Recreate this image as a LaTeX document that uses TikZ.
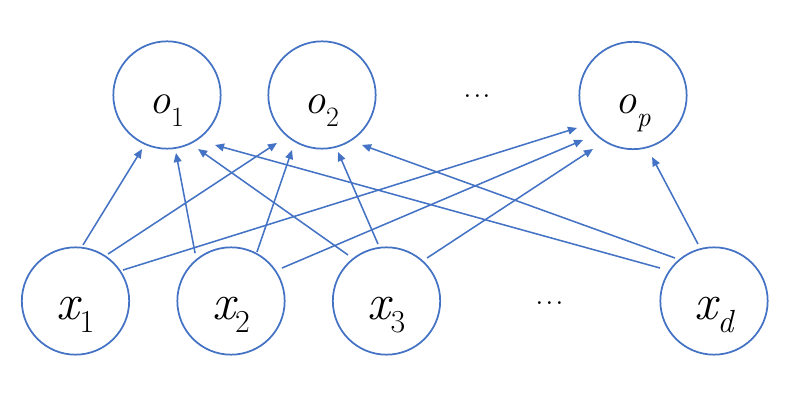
\documentclass[tikz,border=0pt]{standalone}
\usepackage{fontspec}
\usetikzlibrary{calc,arrows.meta}
\definecolor{pptblue}{RGB}{68,114,196}
\newcommand\vsub[5]{{\fontsize{#1}{#1}\selectfont\itshape #2}\raisebox{-#5}{\fontsize{#3}{#3}\selectfont #4}}
\begin{document}
\begin{tikzpicture}[x=0.75pt,y=0.75pt,
  neuron/.style={circle,draw=pptblue,line width=1.3pt,minimum size=80.5pt,inner sep=0pt,text height=27.75pt,text depth=0pt},
  edge/.style={draw=pptblue,line width=1.15pt,-{Triangle[length=6.8pt,width=5.8pt]}},
  dots/.style={font=\fontsize{26pt}{26pt}\selectfont,inner sep=0pt,anchor=south}]
\useasboundingbox[fill=white] (0,0) rectangle (796,400);
% output layer
\node[neuron] (o1) at (167,305) {\vsub{32pt}{o}{21pt}{1}{9.75pt}};
\node[neuron] (o2) at (322,305) {\vsub{32pt}{o}{21pt}{2}{9.75pt}};
\node[neuron] (op) at (633,304.5) {\vsub{32pt}{o}{21pt}{\itshape p}{9.75pt}};
\node[dots] (tdots) at (477.5,302.5) {.\kern0.8pt.\kern0.8pt.};
% input layer
\node[neuron] (x1) at (75.5,99) {\vsub{38pt}{x}{24pt}{1}{9.5pt}};
\node[neuron] (x2) at (231,99) {\vsub{38pt}{x}{24pt}{2}{9.5pt}};
\node[neuron] (x3) at (386.5,99) {\vsub{38pt}{x}{24pt}{3}{9.5pt}};
\node[neuron] (xd) at (714,99) {\vsub{38pt}{x}{24pt}{\itshape d}{9.5pt}};
\node[dots] (bdots) at (550,95.5) {.\kern0.8pt.\kern0.8pt.};
% connections
\draw[edge] ($(x1.center)+(82.4:56.5)$) -- ($(o1.center)+(245.2:59.5)$);
\draw[edge] ($(x1.center)+(55.3:57.1)$) -- ($(o2.center)+(226.8:65.8)$);
\draw[edge] ($(x1.center)+(33.1:56.7)$) -- ($(op.center)+(210.1:64.7)$);
\draw[edge] ($(x2.center)+(126.9:59.8)$) -- ($(o1.center)+(278.8:58.7)$);
\draw[edge] ($(x2.center)+(62.1:55.5)$) -- ($(o2.center)+(241.4:62.6)$);
\draw[edge] ($(x2.center)+(32.9:60.7)$) -- ($(op.center)+(221.7:66.9)$);
\draw[edge] ($(x3.center)+(129.9:60)$) -- ($(o1.center)+(299.9:62.3)$);
\draw[edge] ($(x3.center)+(98.5:57.6)$) -- ($(o2.center)+(285.7:59.2)$);
\draw[edge] ($(x3.center)+(46.7:59)$) -- ($(op.center)+(233.2:66.8)$);
\draw[edge] ($(xd.center)+(148.6:63.3)$) -- ($(o1.center)+(313.8:69.3)$);
\draw[edge] ($(xd.center)+(132.2:58)$) -- ($(o2.center)+(308.7:64)$);
\draw[edge] ($(xd.center)+(105.7:59.2)$) -- ($(op.center)+(287.2:64.4)$);
\end{tikzpicture}
\end{document}
